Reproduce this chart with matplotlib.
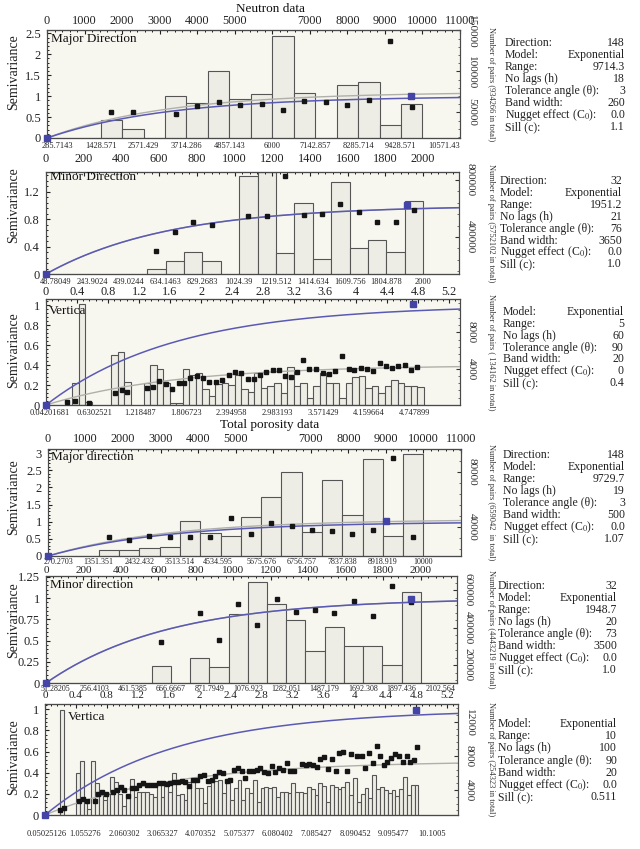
import numpy as np
import matplotlib
matplotlib.use("Agg")
import matplotlib.pyplot as plt
from matplotlib.ticker import MultipleLocator

plt.rcParams['font.family'] = ['Liberation Serif', 'DejaVu Serif']
plt.rcParams['mathtext.fontset'] = 'stix'

FIG_W, FIG_H = 640, 849
BG = '#f7f6ef'
BAR_FACE = '#eeede5'
EDGE = '#555555'
BLUE = '#5a5ab4'
GREY = '#b0b0aa'

# ---------------- Panel 1 : Neutron data, major direction ----------------
p1_lag = 571.43
p1_bar_lags = [3, 4, 6, 7, 8, 9, 10, 11, 12, 13, 14, 15, 16, 17]
p1_bar_pairs = [41000, 30050, 70150, 61280, 100150, 66140, 72210, 143410, 73430, 11170, 83150, 86790, 34550, 60790]
p1_pt_lags = [3, 4, 6, 7, 8, 9, 10, 11, 12, 13, 14, 15, 16, 17]
p1_gamma = [0.61, 0.61, 0.585, 0.76, 0.85, 0.78, 0.81, 0.67, 0.88, 0.85, 0.79, 0.90, 2.32, 0.73]
p1_mark = (9700, 1.0)
p1_bottom_labels = ["285.7143", "1428.571", "2571.429", "3714.286", "4857.143", "6000",
                    "7142.857", "8285.714", "9428.571", "10571.43"]
p1_top_ticks = [0, 1000, 2000, 3000, 4000, 5000, 6000, 7000, 8000, 9000, 10000, 11000]
p1_top_labels = ["0", "1000", "2000", "3000", "4000", "5000", "", "7000", "8000", "9000", "10000", "11000"]
p1_info = [("Direction:", "148"), ("Model:", "Exponential"), ("Range:", "9714.3"),
           ("No lags (h)", "18"), ("Tolerance angle (θ):", "3"), ("Band width:", "260"),
           ("Nugget effect (C$_0$):", "0.0"), ("Sill (c):", "1.1")]
p1_range, p1_sill = 9714.3, 1.1

# ---------------- Panel 2 : Neutron data, minor direction ----------------
p2_lag = 97.56
p2_bar_lags = [5, 6, 7, 8, 10, 11, 12, 13, 14, 15, 16, 17, 18, 19]
p2_bar_pairs = [175100, 233400, 292300, 233400, 830100, 856000, 287400, 638400, 245300,
                785800, 322500, 380800, 292300, 650400]
p2_pt_lags = [5, 6, 7, 8, 10, 11, 12, 13, 14, 15, 16, 17, 18, 19]
p2_gamma = [0.338, 0.614, 0.764, 0.716, 0.85, 0.84, 1.427, 0.86, 0.871, 1.02, 0.904, 0.754, 0.754, 0.929]
p2_mark = (1916, 1.0)
p2_bottom_labels = ["48.78049", "243.9024", "439.0244", "634.1463", "829.2683", "1024.39",
                    "1219.512", "1414.634", "1609.756", "1804.878", "2000"]
p2_top_ticks = list(range(0, 2201, 200))
p2_info = [("Direction:", "32"), ("Model:", "Exponential"), ("Range:", "1951.2"),
           ("No lags (h)", "21"), ("Tolerance angle (θ):", "76"), ("Band width:", "3650"),
           ("Nugget effect (C$_0$):", "0.0"), ("Sill (c):", "1.0")]
p2_range, p2_sill = 1951.2, 1.0

# ---------------- Panel 3 : Neutron data, vertical ----------------
p3_lag = 0.08403
p3_bar_lags = [4, 5, 6, 10, 11, 12] + list(range(15, 58))
p3_bar_pairs = [2457, 11110, 367, 5500, 5794, 2493,
                2457, 4400, 3924, 2384, 257, 257, 3924, 3300, 3557, 1723, 990, 2310, 2457, 2200,
                3300, 1723, 1467, 3484, 1834, 2090, 2457, 1357, 4217, 2090, 2457, 733, 2090,
                3557, 2457, 2457, 733, 2457, 3044, 3190, 1834, 2090, 1357, 2090, 2750, 2457,
                2090, 2090, 2017]
p3_pt_x = [0.276, 0.375, 0.556, 0.891, 0.978, 1.051, 1.301, 1.382, 1.46, 1.546, 1.624, 1.71,
           1.783, 1.856, 1.942, 2.028, 2.106, 2.192, 2.27, 2.356, 2.438, 2.515, 2.601, 2.679,
           2.761, 2.838, 2.924, 3.001, 3.088, 3.161, 3.239, 3.32, 3.398, 3.484,
           3.57, 3.656, 3.734, 3.815, 3.902, 3.979, 4.057, 4.143, 4.216, 4.302, 4.38, 4.461,
           4.539, 4.625, 4.703, 4.784]
p3_gamma = [0.027, 0.043, 0.023, 0.117, 0.15, 0.127, 0.167, 0.183, 0.24, 0.21, 0.16, 0.217,
            0.217, 0.267, 0.293, 0.267, 0.227, 0.233, 0.25, 0.30, 0.333, 0.323, 0.257, 0.257,
            0.30, 0.33, 0.347, 0.35, 0.29, 0.277, 0.333, 0.45, 0.36, 0.36,
            0.323, 0.31, 0.34, 0.49, 0.363, 0.35, 0.367, 0.363, 0.343, 0.423, 0.39, 0.367,
            0.39, 0.40, 0.35, 0.377]
p3_mark = (4.73, 1.01)
p3_bottom_labels = ["0.04201681", "0.6302521", "1.218487", "1.806723", "2.394958", "2.983193",
                    "3.571429", "4.159664", "4.747899"]
p3_info = [("Model:", "Exponential"), ("Range:", "5"), ("No lags (h)", "60"),
           ("Tolerance angle (θ):", "90"), ("Band width:", "20"),
           ("Nugget effect (C$_0$):", "0"), ("Sill (c):", "0.4")]
p3_range, p3_sill = 5.0, 0.4

# ---------------- Panel 4 : Total porosity data, major direction ----------------
p4_lag = 540.54
p4_bar_lags = list(range(2, 18))
p4_bar_pairs = [23500, 23020, 24720, 25450, 44570, 35630, 33660, 47050, 62030, 80000,
                36350, 74400, 48500, 89200, 33200, 93300]
p4_pt_lags = list(range(2, 18))
p4_gamma = [0.557, 0.469, 0.587, 0.547, 0.567, 0.567, 1.105, 0.635, 0.968, 0.88,
            0.772, 0.733, 0.655, 0.762, 2.85, 0.557]
p4_mark = (9005, 1.017)
p4_bottom_labels = ["270.2703", "1351.351", "2432.432", "3513.514", "4534.595", "5675.676",
                    "6756.757", "7837.838", "8918.919", "10000"]
p4_info = [("Direction:", "148"), ("Model:", "Exponential"), ("Range:", "9729.7"),
           ("No lags (h)", "19"), ("Tolerance angle (θ):", "3"), ("Band width:", "500"),
           ("Nugget effect (C$_0$):", "0.0"), ("Sill (c):", "1.07")]
p4_range, p4_sill = 9729.7, 1.07

# ---------------- Panel 5 : Total porosity data, minor direction ----------------
p5_lag = 102.56
p5_bar_lags = [5, 7, 8, 9, 10, 11, 12, 13, 14, 15, 16, 17, 18]
p5_bar_pairs = [196300, 237300, 189300, 473600, 644300, 525300, 438400, 273100, 402700,
                301300, 301300, 198400, 589300]
p5_pt_lags = [5, 7, 8, 9, 10, 11, 12, 13, 14, 15, 16, 17, 18]
p5_gamma = [0.488, 0.828, 0.508, 0.926, 0.68, 0.992, 0.84, 0.859, 0.828, 0.961, 0.789, 1.14, 0.957]
p5_mark = (1948, 0.99)
p5_bottom_labels = ["51.28205", "256.4103", "461.5385", "666.6667", "871.7949", "1076.923",
                    "1282.051", "1487.179", "1692.308", "1897.436", "2102.564"]
p5_info = [("Direction:", "32"), ("Model:", "Exponential"), ("Range:", "1948.7"),
           ("No lags (h)", "20"), ("Tolerance angle (θ):", "73"), ("Band width:", "3500"),
           ("Nugget effect (C$_0$):", "0.0"), ("Sill (c):", "1.0")]
p5_range, p5_sill = 1948.7, 1.0

# ---------------- Panel 6 : Total porosity data, vertical ----------------
p6_lag = 0.1005
p6_bar_lags = [4] + list(range(8, 97))
p6_bar_pairs = [13400,
                6035, 7405, 2823, 1765, 7445, 4860, 3528, 2823, 3528, 5565, 4977, 3528, 2118, 3018,
                5251, 3214, 3802, 3802, 3802, 3528, 3214, 4781, 3214, 4585, 3802, 5956, 3410, 3528,
                2823, 4977, 5173, 4194, 4194, 2431, 4468, 4977, 5055, 5173, 3606, 5251, 2823, 4194,
                5173, 2823, 4194, 3606, 5173, 2627, 4194, 4311, 4233, 4311, 3214, 3802, 3802, 3606,
                4860, 3802, 3802,
                3606, 4311, 4076, 3410, 4781, 4468, 2627, 4585, 4389, 4076, 4311, 4977, 3410, 5369,
                2627, 3528, 4194, 3018, 5760, 4076, 4311, 3998, 3606, 3998, 3293, 4076, 5565, 3410,
                4585, 4585]
p6_pt_x = [0.392, 0.496, 0.896, 1.0, 1.105, 1.305, 1.392, 1.48, 1.593, 1.783, 1.888, 1.976,
           2.07, 2.175, 2.279, 2.367, 2.462, 2.567, 2.671, 2.768, 2.872, 2.977, 3.073, 3.178,
           3.264, 3.368, 3.465, 3.569, 3.655, 3.76, 3.856, 3.961, 4.047, 4.151, 4.248, 4.352,
           4.439, 4.543, 4.64, 4.744, 4.83, 4.935, 5.031, 5.136, 5.222, 5.326, 5.423, 5.527,
           5.614, 5.718, 5.814, 5.919, 6.013, 6.118, 6.206, 6.31, 6.397, 6.501, 6.702, 6.806,
           6.901, 7.005, 7.094, 7.18, 7.285, 7.381, 7.485, 7.59, 7.684, 7.772, 7.876, 7.98,
           8.155, 8.268, 8.355, 8.46, 8.555, 8.66, 8.747, 8.851, 8.938, 9.034, 9.138, 9.243,
           9.339, 9.443, 9.53, 9.643, 9.721]
p6_gamma = [0.047, 0.069, 0.136, 0.151, 0.136, 0.132, 0.196, 0.221, 0.196, 0.221, 0.237, 0.262,
            0.237, 0.18, 0.252, 0.252, 0.284, 0.30, 0.281, 0.281, 0.284, 0.30, 0.306, 0.293,
            0.306, 0.312, 0.312, 0.322, 0.315, 0.278, 0.331, 0.331, 0.369, 0.382, 0.319, 0.331,
            0.369, 0.407, 0.394, 0.322, 0.331, 0.426, 0.442, 0.42, 0.347, 0.42, 0.42, 0.426,
            0.442, 0.41, 0.40, 0.464, 0.41, 0.442, 0.426, 0.495, 0.416, 0.416, 0.483, 0.473,
            0.479, 0.47, 0.457, 0.527, 0.546, 0.432, 0.527, 0.42, 0.59, 0.60, 0.42, 0.577,
            0.558, 0.558, 0.442, 0.59, 0.489, 0.656, 0.558, 0.47, 0.498, 0.536, 0.574, 0.558,
            0.505, 0.558, 0.505, 0.52, 0.647]
p6_mark = (9.69, 0.99)
p6_bottom_labels = ["0.05025126", "1.055276", "2.060302", "3.065327", "4.070352", "5.075377",
                    "6.080402", "7.085427", "8.090452", "9.095477", "10.1005"]
p6_info = [("Model:", "Exponential"), ("Range:", "10"), ("No lags (h)", "100"),
           ("Tolerance angle (θ):", "90"), ("Band width:", "20"),
           ("Nugget effect (C$_0$):", "0.0"), ("Sill (c):", "0.511")]
p6_range, p6_sill = 10.0, 0.511

vert_top_ticks = [0, 0.4, 0.8, 1.2, 1.6, 2, 2.4, 2.8, 3.2, 3.6, 4, 4.4, 4.8, 5.2]

# ---------------- drawing ----------------
fig = plt.figure(figsize=(FIG_W / 100, FIG_H / 100), dpi=100)
fig.patch.set_facecolor('white')


def fmt(v):
    return ('%g' % v)


def panel(box, xlim, ylim, yticks, top_ticks, top_labels, top_pad, top_scale, top_minor,
          bot_labels, bot_pad, r_ylim, r_ticks, bar_x, bar_w, bar_h, pt_x, pt_y, mark,
          rng, sill, title, title_xy, r_label, semi_y, info, info_box, left_minor,
          top_size=8.8, bot_size=6.0):
    l, t, r, b = box
    rect = [l / FIG_W, 1 - b / FIG_H, (r - l) / FIG_W, (b - t) / FIG_H]
    ax = fig.add_axes(rect)
    axr = ax.twinx()
    ax.set_zorder(axr.get_zorder() + 1)
    ax.patch.set_visible(False)
    axr.patch.set_visible(True)
    axr.patch.set_facecolor(BG)

    # bars: number of pairs
    axr.bar(bar_x, bar_h, width=bar_w, bottom=0, facecolor=BAR_FACE, edgecolor=EDGE,
            linewidth=0.8, zorder=2)
    axr.set_ylim(*r_ylim)
    axr.set_yticks(r_ticks)
    axr.set_yticklabels([str(v) for v in r_ticks])
    axr.yaxis.set_minor_locator(MultipleLocator(r_ticks[0] / 5))
    axr.tick_params(axis='y', which='major', direction='in', length=3, pad=5, labelsize=8.2,
                    labelrotation=-90, colors='#333333')
    axr.tick_params(axis='y', which='minor', direction='in', length=1.5, colors='#555555')
    for lab in axr.get_yticklabels():
        lab.set_va('center')
    axr.tick_params(axis='x', which='both', bottom=False, top=False, labelbottom=False)

    # semivariance
    ax.set_xlim(*xlim)
    ax.set_ylim(*ylim)
    h = np.linspace(0, xlim[1], 400)
    ax.plot(h, sill * (1 - np.exp(-3 * h / rng)), color=GREY, lw=1.0, zorder=3)
    ax.plot(h, 1 - np.exp(-3 * h / rng), color=BLUE, lw=1.1, zorder=4)
    ax.plot(pt_x, pt_y, 's', color='#151515', ms=3.2, zorder=5, lw=0)
    ax.plot([0, mark[0]], [0, mark[1]], 's', color='#4444a6', ms=4.3, zorder=6, lw=0,
            clip_on=False)
    ax.set_yticks(yticks)
    ax.set_yticklabels([fmt(v) for v in yticks])
    ax.yaxis.set_minor_locator(MultipleLocator(left_minor))
    ax.tick_params(axis='y', which='major', direction='in', length=3, pad=4.5, labelsize=9,
                   colors='#222222')
    ax.tick_params(axis='y', which='minor', direction='in', length=1.5)
    ax.tick_params(axis='y', which='both', right=False)
    ax.tick_params(axis='x', which='both', bottom=False, top=False, labelbottom=False,
                   labeltop=False)
    for a in (ax, axr):
        for s in a.spines.values():
            s.set_color('#4a4a4a')
            s.set_linewidth(0.8)

    # top axis
    sec_t = ax.secondary_xaxis('top', functions=(lambda x: x * top_scale, lambda x: x / top_scale))
    sec_t.set_xticks(top_ticks)
    sec_t.set_xticklabels(top_labels)
    sec_t.xaxis.set_minor_locator(MultipleLocator(top_minor))
    sec_t.tick_params(axis='x', which='major', direction='in', length=3, pad=top_pad,
                      labelsize=top_size, colors='#222222')
    sec_t.tick_params(axis='x', which='minor', direction='in', length=1.5)
    sec_t.spines['top'].set_color('#4a4a4a')
    sec_t.spines['top'].set_linewidth(0.8)

    # bottom labels (lag boundaries)
    sec_b = ax.secondary_xaxis('bottom')
    sec_b.set_xticks([float(s) for s in bot_labels])
    sec_b.set_xticklabels(bot_labels)
    sec_b.tick_params(axis='x', which='both', length=0, pad=bot_pad, labelsize=bot_size,
                      colors='#222222')
    sec_b.spines['bottom'].set_color('#4a4a4a')
    sec_b.spines['bottom'].set_linewidth(0.8)

    fig.text(title_xy[0] / FIG_W, 1 - title_xy[1] / FIG_H, title, fontsize=9.5,
             ha='left', va='center', color='#111111', zorder=10)
    fig.text(491 / FIG_W, 1 - ((t + b) / 2) / FIG_H, r_label, fontsize=6.0, rotation=-90,
             ha='center', va='center', color='#333333')
    fig.text(14 / FIG_W, 1 - semi_y / FIG_H, 'Semivariance', fontsize=10, rotation=90,
             ha='center', va='center', color='#222222')
    xl, xr, y0, dy = info_box
    for i, (k, v) in enumerate(info):
        yy = 1 - (y0 + i * dy) / FIG_H
        fig.text(xl / FIG_W, yy, k, fontsize=8.5, ha='left', va='center', color='#222222')
        fig.text(xr / FIG_W, yy, v, fontsize=8.5, ha='right', va='center', color='#222222')
    return ax


def centers(lags, lag, offset):
    return [offset + k * lag for k in lags]


# Panel 1
panel((47, 30, 460, 138), (0, 11000), (0, 2.58), [0, 0.5, 1, 1.5, 2, 2.5],
      p1_top_ticks, p1_top_labels, 2.2, 1.0, 200, p1_bottom_labels, 3.0,
      (18750, 150500), [50000, 100000, 150000],
      centers(p1_bar_lags, p1_lag, 0), p1_lag, p1_bar_pairs,
      centers(p1_pt_lags, p1_lag, 0), p1_gamma, p1_mark, p1_range, p1_sill,
      'Major Direction', (51, 39), 'Number of pairs (934266 in total)', 72,
      p1_info, (505, 625, 43, 12), 0.1)

# Panel 2
panel((46, 172, 459, 274), (0, 2190), (0, 1.485), [0, 0.4, 0.8, 1.2],
      p2_top_ticks, [fmt(v) for v in p2_top_ticks], 5.0, 1.0, 40, p2_bottom_labels, 2.6,
      (140000, 856000), [400000, 800000],
      centers(p2_bar_lags, p2_lag, p2_lag), p2_lag, p2_bar_pairs,
      centers(p2_pt_lags, p2_lag, p2_lag), p2_gamma, p2_mark, p2_range, p2_sill,
      'Minor Direction', (50, 177), 'Number of pairs (5752102 in total)', 205,
      p2_info, (500, 622, 181, 11.9), 0.08)

# Panel 3
panel((46, 299, 460, 405), (0, 5.34), (0, 1.06), [0, 0.2, 0.4, 0.6, 0.8, 1],
      vert_top_ticks, [fmt(v) for v in vert_top_ticks], 0.8, 1.0, 0.08, p3_bottom_labels, 3.0,
      (0, 11660), [4000, 8000],
      centers(p3_bar_lags, p3_lag, p3_lag / 2), p3_lag, p3_bar_pairs,
      p3_pt_x, p3_gamma, p3_mark, p3_range, p3_sill,
      'Vertica', (49, 311), 'Number of pairs ( 134162 in total)', 350,
      p3_info, (503, 624, 312, 11.85), 0.04)

fig.text(270 / FIG_W, 1 - 9 / FIG_H, 'Neutron data', fontsize=9.5, ha='center', va='center',
         color='#111111')
fig.text(270 / FIG_W, 1 - 425 / FIG_H, 'Total porosity data', fontsize=9.5, ha='center',
         va='center', color='#111111')

# Panel 4
panel((48, 449, 461, 556), (0, 11000), (0, 3.12), [0, 0.5, 1, 1.5, 2, 2.5, 3],
      p1_top_ticks, p1_top_labels, 2.7, 1.0, 200, p4_bottom_labels, 1.2,
      (18900, 96700), [40000, 80000],
      centers(p4_bar_lags, p4_lag, p4_lag), p4_lag, p4_bar_pairs,
      centers(p4_pt_lags, p4_lag, p4_lag), p4_gamma, p4_mark, p4_range, p4_sill,
      'Major direction', (51, 457), 'Number of pairs (659042  in total)', 497,
      p4_info, (503, 625, 455, 12), 0.1, bot_size=5.8)

# Panel 5
panel((46, 576, 457, 683), (0, 2193), (0, 1.26), [0, 0.25, 0.5, 0.75, 1, 1.25],
      p2_top_ticks, [fmt(v) for v in p2_top_ticks], 0.8, 1.0, 40, p5_bottom_labels, 1.2,
      (104000, 675000), [200000, 400000, 600000],
      centers(p5_bar_lags, p5_lag, p5_lag), p5_lag, p5_bar_pairs,
      centers(p5_pt_lags, p5_lag, p5_lag), p5_gamma, p5_mark, p5_range, p5_sill,
      'Minor direction', (50, 585), 'Number of pairs (4443219 in total)', 620,
      p5_info, (498, 617, 586, 12), 0.05, top_size=8.0, bot_size=5.8)

# Panel 6
panel((45, 704, 458, 815), (0, 10.78), (0, 1.05), [0, 0.2, 0.4, 0.6, 0.8, 1],
      vert_top_ticks, [fmt(v) for v in vert_top_ticks], 3.0, 5.34 / 10.78, 0.08,
      p6_bottom_labels, 10.5,
      (1060, 14100), [4000, 8000, 12000],
      centers(p6_bar_lags, p6_lag, p6_lag / 2), p6_lag, p6_bar_pairs,
      p6_pt_x, p6_gamma, p6_mark, p6_range, p6_sill,
      'Vertica', (68, 717), 'Number of pairs (254323 in total)', 757,
      p6_info, (498, 617, 724, 12.2), 0.04, top_size=8.0)

fig.savefig('out.png', dpi=100, facecolor='white')
